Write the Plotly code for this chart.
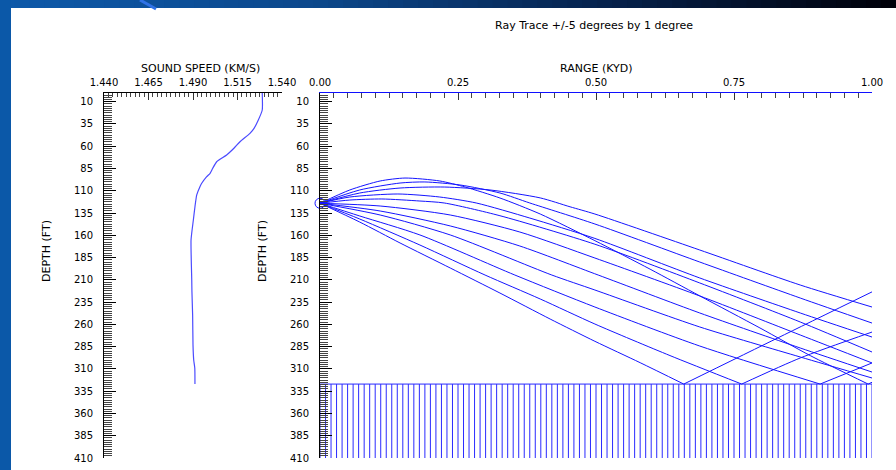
import numpy as np
import plotly.graph_objects as go

W, H = 896, 470

# ---------------- data ----------------
profile_depth = [0, 19.3, 30.5, 39.9, 45.5, 54.9, 62.3, 69.8, 77.4, 84.7, 90.4, 94.2,
                 101.6, 105.4, 114.7, 127.9, 142.8, 165.3, 210.2, 223, 250, 283, 300, 309, 327]
profile_speed = [1.5289, 1.5289, 1.5267, 1.5243, 1.5220, 1.5164, 1.5130, 1.5089, 1.5033,
                 1.5011, 1.4996, 1.4977, 1.4949, 1.4939, 1.4921, 1.4911, 1.4902, 1.4889,
                 1.4893, 1.4894, 1.4898, 1.4900, 1.4904, 1.4910, 1.4911]

source_range = 0.0
source_depth = 124
bottom_depth = 327
max_depth = 410

# rays (range in kyd, depth in ft), launch angles -5..+5 deg
ray_m5_range = [0, 0.054, 0.109, 0.154, 0.217, 0.263, 0.326, 0.399, 0.498, 0.598, 0.688, 0.797, 0.888, 0.993]
ray_m5_depth = [124, 109.1, 99.0, 95.7, 99.0, 105.8, 118.1, 136.1, 166.0, 198.0, 228.0, 264.0, 295.0, 327]
ray_m5_refl_range = [0.993, 1.0]
ray_m5_refl_depth = [327, 325]

ray_m4_range = [0, 0.072, 0.145, 0.190, 0.254, 0.326, 0.380, 0.498, 0.688, 0.870, 1.0]
ray_m4_depth = [124, 109.1, 101.3, 100.1, 103.5, 112.5, 123.7, 147.3, 190.0, 230.4, 258.5]

ray_m3_range = [0, 0.072, 0.145, 0.226, 0.308, 0.399, 0.453, 0.498, 0.688, 0.870, 1.0]
ray_m3_depth = [124, 112.5, 106.9, 105.8, 109.1, 118.0, 128.0, 136.1, 176.5, 215.8, 240.5]

ray_m2_range = [0, 0.054, 0.141, 0.217, 0.283, 0.380, 0.498, 0.688, 0.870, 1.0]
ray_m2_depth = [124, 117.0, 113.6, 117.0, 123.7, 140.6, 163.5, 207.9, 247.2, 274.2]

ray_m1_range = [0, 0.054, 0.112, 0.181, 0.225, 0.326, 0.498, 0.688, 0.870, 1.0]
ray_m1_depth = [124, 120.4, 119.2, 121.5, 123.7, 138.0, 170.0, 213.5, 257.3, 291.0]

ray_0_range = [0, 0.109, 0.236, 0.362, 0.498, 0.688, 0.870, 1.0]
ray_0_depth = [124, 127.1, 137.2, 156.3, 185.5, 228.1, 271.9, 303.3]

ray_p1_range = [0, 0.109, 0.236, 0.362, 0.504, 0.688, 0.870, 1.0]
ray_p1_depth = [124, 132.7, 149.5, 172.0, 204.6, 247.2, 286.5, 313.5]

ray_p2_range = [0, 0.109, 0.236, 0.420, 0.498, 0.688, 0.870, 1.0]
ray_p2_depth = [124, 137.2, 159.6, 204.6, 221.4, 262.9, 296.6, 320.2]

ray_p3_range = [0, 0.072, 0.181, 0.353, 0.498, 0.688, 0.906]
ray_p3_depth = [124, 138.3, 159.6, 204.6, 240.5, 284.3, 327]
ray_p3_refl_range = [0.906, 1.0]
ray_p3_refl_depth = [327, 303.3]

ray_p4_range = [0, 0.072, 0.181, 0.299, 0.399, 0.498, 0.634, 0.764]
ray_p4_depth = [124, 141.7, 170.9, 204.6, 231.5, 259.6, 295.0, 327]
ray_p4_refl_range = [0.764, 0.870, 1.0]
ray_p4_refl_depth = [327, 297.7, 268.6]

ray_p5_range = [0, 0.072, 0.145, 0.236, 0.326, 0.417, 0.498, 0.580, 0.659]
ray_p5_depth = [124, 145.1, 168.6, 196.7, 224.8, 254.0, 279.0, 303.0, 327]
ray_p5_refl_range = [0.659, 0.830, 1.0]
ray_p5_refl_depth = [327, 275.0, 223.5]

hatch_step = 0.01

title_text = "Ray Trace +/-5 degrees by 1 degree"
speed_title = "SOUND SPEED (KM/S)"
range_title = "RANGE (KYD)"
depth_title = "DEPTH (FT)"

# ---------------- figure ----------------
RAY = "#1414ff"
FONT = "DejaVu Sans"
fig = go.Figure()

fig.add_trace(go.Scatter(x=profile_speed, y=profile_depth, mode="lines",
                         line=dict(color="#4b4bff", width=1.2, shape="spline", smoothing=0.5),
                         xaxis="x", yaxis="y", showlegend=False, hoverinfo="skip"))

# seabed hatch
hx, hy = [0, 1, None], [bottom_depth, bottom_depth, None]
for r in np.round(np.arange(0, 1 + hatch_step / 2, hatch_step), 4):
    hx += [r, r, None]
    hy += [bottom_depth, max_depth, None]
fig.add_trace(go.Scatter(x=hx, y=hy, mode="lines", line=dict(color="#2a2aff", width=1),
                         xaxis="x2", yaxis="y2", showlegend=False, hoverinfo="skip"))

segments = [
    (ray_m5_range, ray_m5_depth), (ray_m5_refl_range, ray_m5_refl_depth),
    (ray_m4_range, ray_m4_depth), (ray_m3_range, ray_m3_depth),
    (ray_m2_range, ray_m2_depth), (ray_m1_range, ray_m1_depth),
    (ray_0_range, ray_0_depth), (ray_p1_range, ray_p1_depth),
    (ray_p2_range, ray_p2_depth), (ray_p3_range, ray_p3_depth),
    (ray_p3_refl_range, ray_p3_refl_depth), (ray_p4_range, ray_p4_depth),
    (ray_p4_refl_range, ray_p4_refl_depth), (ray_p5_range, ray_p5_depth),
    (ray_p5_refl_range, ray_p5_refl_depth),
]
for rx, ry in segments:
    fig.add_trace(go.Scatter(x=rx, y=ry, mode="lines",
                             line=dict(color=RAY, width=1, shape="spline", smoothing=0.7),
                             xaxis="x2", yaxis="y2", showlegend=False, hoverinfo="skip"))

fig.add_trace(go.Scatter(x=[source_range], y=[source_depth], mode="markers",
                         marker=dict(symbol="circle-open", size=10, color=RAY, line=dict(width=1)),
                         xaxis="x2", yaxis="y2", cliponaxis=False, showlegend=False,
                         hoverinfo="skip"))

ytop, ybot = 92.8, 458
ydom = [1 - ybot / H, 1 - ytop / H]
tickfont = dict(family=FONT, size=10, color="black")

yaxis_common = dict(
    domain=ydom, range=[max_depth, 0], tick0=10, dtick=25, ticks="inside", ticklen=12,
    tickcolor="black", tickwidth=1, showline=True, linecolor="black", linewidth=1,
    showgrid=False, zeroline=False, tickfont=tickfont, ticklabelstandoff=8,
    automargin=False,
    minor=dict(ticks="inside", ticklen=8, dtick=2.5, tick0=10, tickcolor="#444", tickwidth=1,
               showgrid=False),
)

fig.update_layout(
    width=W, height=H, autosize=False,
    margin=dict(l=0, r=0, t=0, b=0, pad=0, autoexpand=False),
    paper_bgcolor="white", plot_bgcolor="white",
    xaxis=dict(domain=[104 / W, 282 / W], range=[1.44, 1.54], side="top", anchor="y",
               tick0=1.44, dtick=0.025, tickformat=".3f", ticks="inside", ticklen=7,
               tickcolor="#333", showline=True, linecolor="black", linewidth=1,
               showgrid=False, zeroline=False, tickfont=tickfont, ticklabelstandoff=2,
               automargin=False,
               minor=dict(ticks="inside", ticklen=4, dtick=0.0025, tick0=1.44,
                          tickcolor="#444", showgrid=False)),
    yaxis=dict(anchor="x", **yaxis_common),
    xaxis2=dict(domain=[320 / W, 872 / W], range=[0, 1], side="top", anchor="y2",
                tick0=0, dtick=0.25, tickformat=".2f", ticks="inside", ticklen=7,
                tickcolor="#333", showline=True, linecolor="#1010ff", linewidth=1,
                showgrid=False, zeroline=False, tickfont=tickfont, ticklabelstandoff=2,
                automargin=False,
                minor=dict(ticks="inside", ticklen=5, dtick=0.025, tick0=0,
                           tickcolor="#444", showgrid=False)),
    yaxis2=dict(anchor="x2", **yaxis_common),
    showlegend=False,
)

# ---------------- slide frame decoration ----------------
shapes = []
stops = [(0.0, (14, 90, 170)), (0.35, (12, 72, 140)), (0.7, (6, 32, 72)), (1.0, (0, 0, 8))]
N = 60
for i in range(N):
    t = (i + 0.5) / N
    for (a, ca), (b, cb) in zip(stops[:-1], stops[1:]):
        if a <= t <= b:
            f = (t - a) / (b - a)
            c = tuple(int(ca[k] + (cb[k] - ca[k]) * f) for k in range(3))
            break
    shapes.append(dict(type="rect", xref="paper", yref="paper", x0=i / N, x1=(i + 1) / N + 0.002,
                       y0=1 - 8 / H, y1=1, line=dict(width=0), fillcolor="rgb(%d,%d,%d)" % c,
                       layer="above"))
shapes.append(dict(type="rect", xref="paper", yref="paper", x0=0, x1=11 / W, y0=0, y1=1,
                   line=dict(width=0), fillcolor="#0b58a8", layer="above"))
shapes.append(dict(type="line", xref="paper", yref="paper", x0=140 / W, y0=1, x1=156 / W,
                   y1=1 - 9 / H, line=dict(color="#2f72e6", width=3), layer="above"))
fig.update_layout(shapes=shapes)

ann = [
    dict(text=title_text, x=594 / W, y=1 - 25 / H, size=11, angle=0),
    dict(text=speed_title, x=200 / W, y=1 - 68 / H, size=11, angle=0),
    dict(text=range_title, x=596 / W, y=1 - 68 / H, size=11, angle=0),
    dict(text=depth_title, x=46 / W, y=1 - 251 / H, size=11, angle=-90),
    dict(text=depth_title, x=262 / W, y=1 - 251 / H, size=11, angle=-90),
]
for a in ann:
    fig.add_annotation(xref="paper", yref="paper", showarrow=False, xanchor="center",
                       yanchor="middle", text=a["text"], x=a["x"], y=a["y"],
                       textangle=a["angle"],
                       font=dict(family=FONT, size=a["size"], color="black"))

fig.write_html("out.html")
